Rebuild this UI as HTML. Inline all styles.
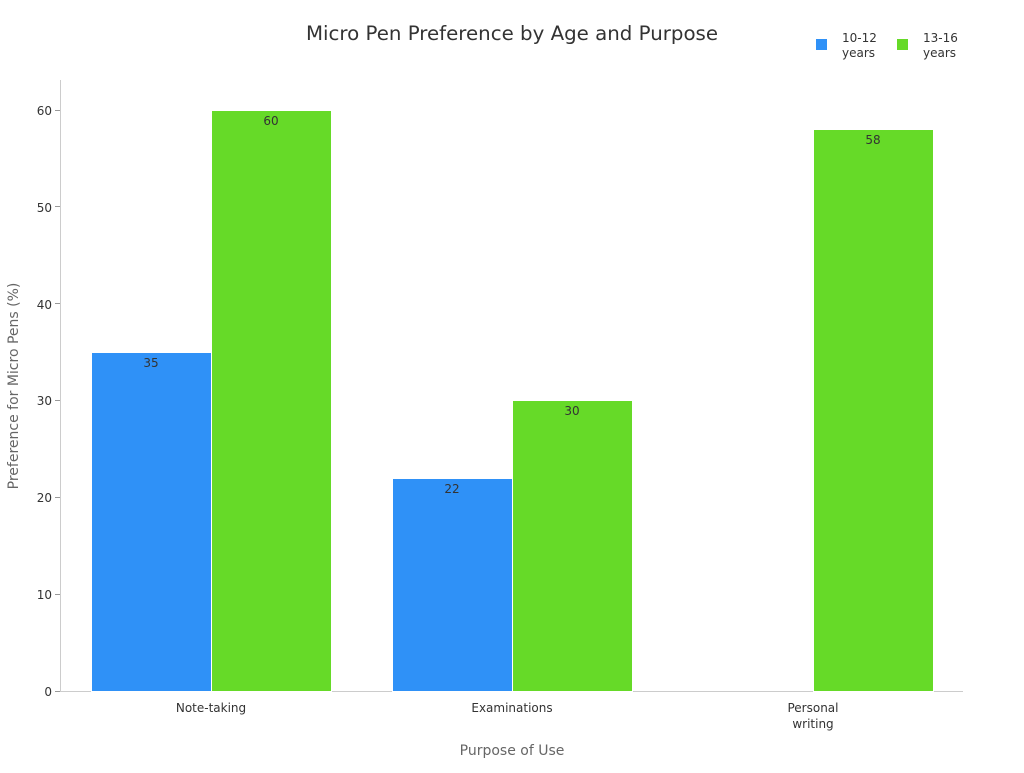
<!DOCTYPE html>
<html><head><meta charset="utf-8"><style>body{margin:0;background:#fff}</style></head><body>
<svg width="1024" height="768" xmlns="http://www.w3.org/2000/svg" font-family="DejaVu Sans, Liberation Sans, sans-serif">
<rect width="1024" height="768" fill="#fff"/>
<text x="512" y="40" text-anchor="middle" font-size="19.8" fill="#333">Micro Pen Preference by Age and Purpose</text>
<rect x="816" y="39" width="11" height="11" fill="#2f91f7"/>
<text x="842" y="42" font-size="12" fill="#333">10-12</text>
<text x="842" y="57" font-size="12" fill="#333">years</text>
<rect x="897" y="39" width="11" height="11" fill="#66da28"/>
<text x="923" y="42" font-size="12" fill="#333">13-16</text>
<text x="923" y="57" font-size="12" fill="#333">years</text>
<line x1="60.5" y1="80" x2="60.5" y2="691.5" stroke="#ccc"/>
<line x1="60" y1="691.5" x2="963" y2="691.5" stroke="#ccc"/>
<g font-size="12" fill="#333" text-anchor="end">
<text x="52" y="696">0</text><text x="52" y="599">10</text><text x="52" y="502">20</text>
<text x="52" y="405">30</text><text x="52" y="309">40</text><text x="52" y="212">50</text><text x="52" y="115">60</text>
</g>
<g stroke="#999"><line x1="55" x2="60" y1="691.5" y2="691.5"/><line x1="55" x2="60" y1="594.5" y2="594.5"/><line x1="55" x2="60" y1="497.5" y2="497.5"/><line x1="55" x2="60" y1="400.5" y2="400.5"/><line x1="55" x2="60" y1="303.5" y2="303.5"/><line x1="55" x2="60" y1="206.5" y2="206.5"/><line x1="55" x2="60" y1="110.5" y2="110.5"/></g>
<g stroke="#fff" stroke-width="1">
<rect x="91.5" y="352.5" width="120" height="339" fill="#2f91f7"/>
<rect x="211.5" y="110.5" width="120" height="581" fill="#66da28"/>
<rect x="392.5" y="478.5" width="120" height="213" fill="#2f91f7"/>
<rect x="512.5" y="400.5" width="120" height="291" fill="#66da28"/>
<rect x="813.5" y="129.5" width="120" height="562" fill="#66da28"/>
</g>
<g font-size="12" fill="#333" text-anchor="middle">
<text x="151" y="367">35</text><text x="271" y="125">60</text>
<text x="452" y="493">22</text><text x="572" y="415">30</text><text x="873" y="144">58</text>
<text x="211" y="712">Note-taking</text><text x="512" y="712">Examinations</text>
<text x="813" y="712">Personal</text><text x="813" y="728">writing</text>
</g>
<text x="512" y="755" text-anchor="middle" font-size="14" fill="#666">Purpose of Use</text>
<text transform="translate(18,386) rotate(-90)" text-anchor="middle" font-size="14" fill="#666">Preference for Micro Pens (%)</text>
</svg>
</body></html>
